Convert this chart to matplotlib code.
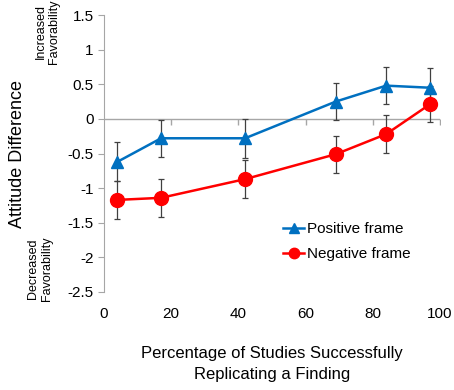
import matplotlib

matplotlib.use("Agg")
import matplotlib.pyplot as plt
from matplotlib.markers import TICKDOWN

# values
pct_replicated = [4, 17, 42, 69, 84, 97]
positive_mean = [-0.62, -0.28, -0.28, 0.25, 0.48, 0.45]
positive_err = [0.28, 0.27, 0.28, 0.27, 0.27, 0.28]
negative_mean = [-1.17, -1.14, -0.87, -0.51, -0.22, 0.21]
negative_err = [0.28, 0.27, 0.27, 0.27, 0.27, 0.26]

y_ticks = [1.5, 1, 0.5, 0, -0.5, -1, -1.5, -2, -2.5]
x_ticks = [0, 20, 40, 60, 80, 100]

BLUE = "#0070C0"
RED = "#FF0000"
AXIS_GRAY = "#A6A6A6"

plt.rcParams["font.family"] = ["Liberation Sans", "DejaVu Sans"]

fig = plt.figure(figsize=(4.54, 3.9), dpi=100)
ax = fig.add_axes([0.229, 0.2513, 0.740, 0.7102])

# the category axis crosses at y = 0 (labels stay at the bottom)
ax.axhline(0, color=AXIS_GRAY, linewidth=1.0, zorder=1)
ax.plot(x_ticks[1:], [0] * len(x_ticks[1:]), linestyle="none", marker=TICKDOWN,
        markersize=4, markeredgewidth=1.0, color=AXIS_GRAY, zorder=1)

err_style = dict(ecolor="#404040", elinewidth=0.9, capsize=2.5, capthick=0.9)
pos = ax.errorbar(pct_replicated, positive_mean, yerr=positive_err, color=BLUE,
                  marker="^", markersize=9, linewidth=1.8, zorder=3, **err_style)
neg = ax.errorbar(pct_replicated, negative_mean, yerr=negative_err, color=RED,
                  marker="o", markersize=10, linewidth=1.8, zorder=3, **err_style)

ax.set_xlim(0, 100)
ax.set_ylim(-2.5, 1.5)
ax.set_yticks(y_ticks)
ax.set_yticklabels([f"{t:g}" for t in y_ticks])
ax.set_xticks(x_ticks)

for side in ("top", "right", "bottom"):
    ax.spines[side].set_visible(False)
ax.spines["left"].set_color(AXIS_GRAY)
ax.tick_params(axis="y", colors=AXIS_GRAY, labelcolor="black", labelsize=11,
               length=4, direction="out")
ax.tick_params(axis="x", length=0, labelsize=11, pad=11)

ax.set_ylabel("Attitude Difference", fontsize=13, labelpad=30)
ax.set_xlabel("Percentage of Studies Successfully\nReplicating a Finding",
              fontsize=12, labelpad=18, linespacing=1.45)

fig.text(0.105, 0.918, "Increased\nFavorability", rotation=90, fontsize=9,
         ha="center", va="center", linespacing=1.15)
fig.text(0.088, 0.31, "Decreased\nFavorability", rotation=90, fontsize=9,
         ha="center", va="center", linespacing=1.15)

pos_line = pos.lines[0]
neg_line = neg.lines[0]
ax.legend([pos_line, neg_line], ["Positive frame", "Negative frame"],
          loc="upper left", bbox_to_anchor=(0.515, 0.275), frameon=False,
          fontsize=11, handlelength=1.4, handletextpad=0.15, labelspacing=0.75,
          borderaxespad=0, markerscale=0.75)

fig.savefig("out.png", dpi=100)
